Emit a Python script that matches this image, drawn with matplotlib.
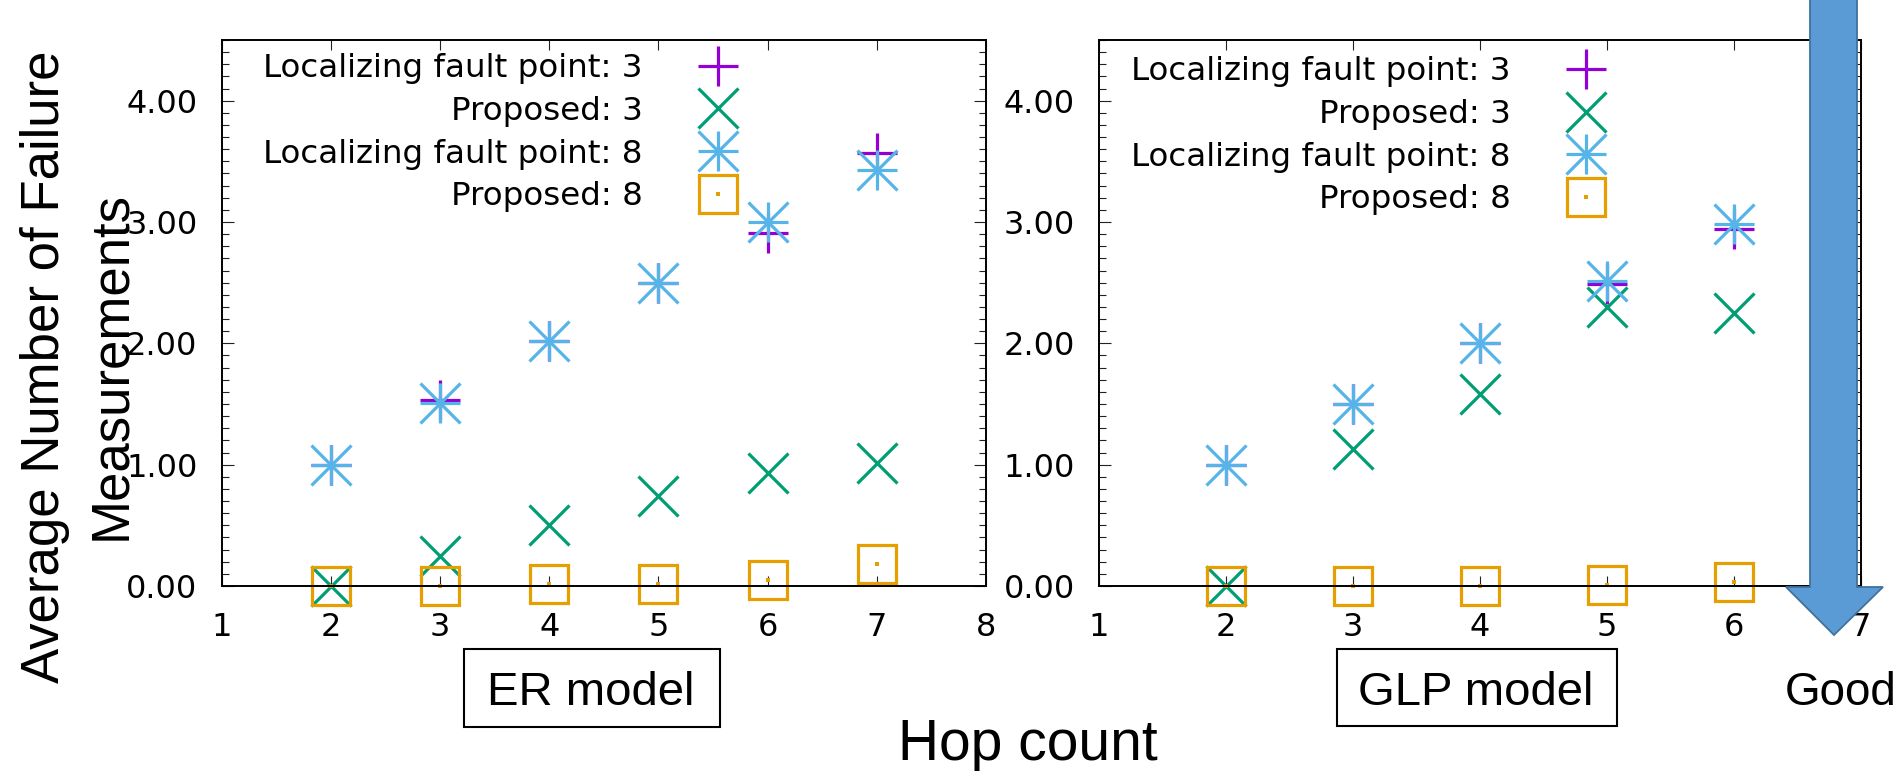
import matplotlib
matplotlib.use("Agg")
import matplotlib.pyplot as plt
from matplotlib.patches import Polygon, Rectangle
from matplotlib.ticker import MultipleLocator, FormatStrFormatter

W, H = 1893, 771

# ── data ──────────────────────────────────────────────────────────────────
er_hops = [2, 3, 4, 5, 6, 7]
er_lfp3 = [1.00, 1.53, 2.02, 2.50, 2.91, 3.57]
er_prop3 = [0.00, 0.25, 0.50, 0.74, 0.93, 1.01]
er_lfp8 = [1.00, 1.51, 2.02, 2.50, 3.00, 3.43]
er_prop8 = [0.00, 0.00, 0.015, 0.02, 0.05, 0.18]

glp_hops = [2, 3, 4, 5, 6]
glp_lfp3 = [1.00, 1.50, 2.00, 2.49, 2.94]
glp_prop3 = [0.00, 1.13, 1.58, 2.30, 2.25]
glp_lfp8 = [1.00, 1.50, 2.00, 2.51, 2.98]
glp_prop8 = [0.00, 0.00, 0.00, 0.01, 0.03]

labels = ["Localizing fault point: 3", "Proposed: 3",
          "Localizing fault point: 8", "Proposed: 8"]

C_PURPLE = "#9400D3"
C_GREEN = "#009E73"
C_BLUE = "#56B4E9"
C_ORANGE = "#E69F00"

GP_FONT = "DejaVu Sans"
PPT_FONT = "Liberation Sans"

MS = 29
MEW = 2.3


def fx(x):
    return x / W


def fy(y):
    return 1 - y / H


fig = plt.figure(figsize=(W / 100, H / 100), dpi=100)
fig.patch.set_facecolor("white")


def panel(rect, hops, lfp3, prop3, lfp8, prop8, xmax, leg_anchor):
    ax = fig.add_axes(rect)
    kw = dict(linestyle="none", clip_on=False, markersize=MS, markeredgewidth=MEW)
    h1, = ax.plot(hops, lfp3, marker="+", color=C_PURPLE, **kw)
    h2, = ax.plot(hops, prop3, marker="x", color=C_GREEN, **kw)
    h3a, = ax.plot(hops, lfp8, marker="+", color=C_BLUE, **kw)
    h3b, = ax.plot(hops, lfp8, marker="x", color=C_BLUE, **kw)
    h4a, = ax.plot(hops, prop8, marker="s", color=C_ORANGE, markerfacecolor="none",
                   linestyle="none", clip_on=False, markersize=MS - 1.5,
                   markeredgewidth=MEW)
    h4b, = ax.plot(hops, prop8, marker="s", color=C_ORANGE, markersize=2.2,
                   markeredgewidth=0, linestyle="none", clip_on=False)

    ax.set_xlim(1, xmax)
    ax.set_ylim(0, 4.5)
    ax.xaxis.set_major_locator(MultipleLocator(1))
    ax.yaxis.set_major_locator(MultipleLocator(1))
    ax.yaxis.set_minor_locator(MultipleLocator(0.1))
    ax.yaxis.set_major_formatter(FormatStrFormatter("%.2f"))
    ax.tick_params(axis="both", which="both", direction="in",
                   top=True, right=True, width=0.8, color="#222")
    ax.tick_params(axis="y", which="major", length=8.5, pad=17.5)
    ax.tick_params(axis="y", which="minor", length=5)
    ax.tick_params(axis="x", which="major", length=7.5, pad=18.5)
    for lab in ax.get_xticklabels() + ax.get_yticklabels():
        lab.set_fontfamily(GP_FONT)
        lab.set_fontsize(23)
    for s in ax.spines.values():
        s.set_linewidth(1.4)

    ax.legend([h1, h2, (h3a, h3b), (h4a, h4b)], labels,
              loc="upper left", bbox_to_anchor=leg_anchor,
              frameon=False, markerfirst=False,
              prop={"family": GP_FONT, "size": 23.4},
              handlelength=2.0, handletextpad=1.31, labelspacing=0.36,
              borderpad=0, borderaxespad=0)
    return ax


panel([fx(221.7), fy(586), (986 - 221.7) / W, 546 / H],
      er_hops, er_lfp3, er_prop3, er_lfp8, er_prop8, 8, (0.054, 0.976))
panel([fx(1099), fy(586), 762 / W, 546 / H],
      glp_hops, glp_lfp3, glp_prop3, glp_lfp8, glp_prop8, 7, (0.042, 0.97))

# ── y label (two lines) ───────────────────────────────────────────────────
fig.text(fx(59), fy(367), "Average Number of Failure", rotation=90,
         rotation_mode="anchor", ha="center", va="baseline",
         fontsize=38, family=PPT_FONT)
fig.text(fx(125), fy(365), "Measurements", rotation=90,
         rotation_mode="anchor", ha="center", va="baseline",
         fontsize=38, family=PPT_FONT)

# ── model boxes ───────────────────────────────────────────────────────────
for (x0, y0, x1, y1), txt in [((464, 649, 720, 727), "ER model"),
                               ((1337, 649, 1617, 726), "GLP model")]:
    fig.add_artist(Rectangle((fx(x0), fy(y1)), (x1 - x0) / W, (y1 - y0) / H,
                             transform=fig.transFigure, facecolor="white",
                             edgecolor="black", linewidth=1.5, zorder=3))
    fig.text(fx((x0 + x1) / 2 - 1), fy(705), txt, ha="center", va="baseline",
             fontsize=34, family=PPT_FONT, zorder=4)

fig.text(fx(1028), fy(760), "Hop count", ha="center", va="baseline",
         fontsize=41, family=PPT_FONT)

# ── "Good" arrow ──────────────────────────────────────────────────────────
arrow_pts = [(1810, -5), (1857, -5), (1857, 587), (1883, 587),
             (1834, 635), (1786, 587), (1810, 587)]
fig.add_artist(Polygon([(fx(x), fy(y)) for x, y in arrow_pts], closed=True,
                       transform=fig.transFigure, facecolor="#5B9BD5",
                       edgecolor="#41719C", linewidth=1.3, zorder=5))
fig.text(fx(1785), fy(705), "Good", ha="left", va="baseline",
         fontsize=33, family=PPT_FONT)

fig.savefig("out.png", dpi=100, facecolor="white")
